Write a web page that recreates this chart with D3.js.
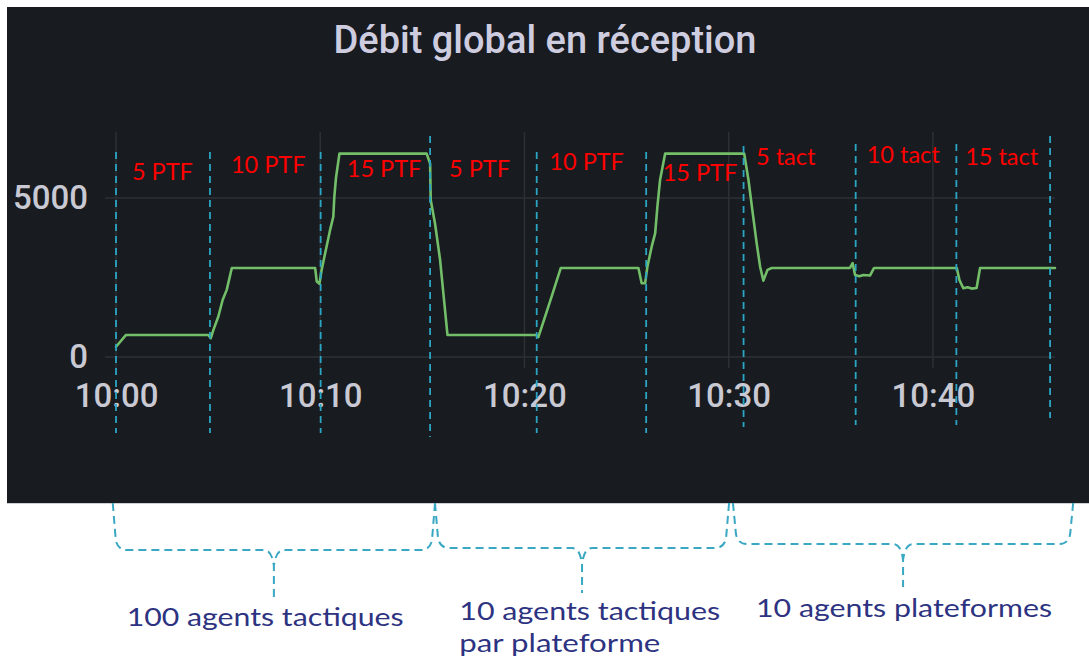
<!DOCTYPE html>
<html>
<head>
<meta charset="utf-8">
<script src="https://cdn.jsdelivr.net/npm/d3@7"></script>
<style>
  html, body { margin: 0; padding: 0; background: #ffffff; }
  svg { display: block; }
</style>
</head>
<body>
<svg id="chart" width="1089" height="657"></svg>
<script>
// Débit global en réception — samples as minutes after 10:00 and received throughput
const minutes = [
  0, 0.49, 4.52, 4.64, 4.77, 5.01, 5.22, 5.42, 5.67,
  9.75, 9.83, 9.96, 10.07, 10.24, 10.48, 10.64, 10.69, 10.77, 10.94,
  15.21, 15.38, 15.41, 15.62, 15.87, 16.03, 16.23,
  20.57, 20.68, 20.85, 21.01, 21.33, 21.78,
  25.58, 25.74, 25.91, 26.02, 26.23, 26.40, 26.51, 26.64, 26.89,
  30.64, 30.76, 30.97, 31.18, 31.37, 31.54, 31.70, 31.90, 32.11,
  35.94, 36.07, 36.19, 36.40, 36.60, 36.92, 37.12,
  41.17, 41.30, 41.49, 41.70, 41.90, 42.14, 42.31, 45.98
];
const debit = [
  320, 690, 690, 590, 850, 1270, 1790, 2110, 2800,
  2800, 2370, 2300, 2740, 3260, 3990, 4410, 5040, 5630, 6400,
  6400, 6090, 4940, 4200, 3050, 2000, 690,
  690, 620, 950, 1270, 1900, 2800,
  2800, 2320, 2320, 2840, 3470, 3890, 4730, 5570, 6400,
  6400, 6400, 5570, 4520, 3580, 2840, 2400, 2740, 2800,
  2800, 2950, 2580, 2540, 2580, 2560, 2800,
  2800, 2420, 2160, 2190, 2150, 2170, 2800, 2800
];

// y-axis ticks and time ticks
const yTicks = [0, 5000];
const timeTickStep = 10;

// phase boundaries (minutes after 10:00) and phase names
const phaseBounds = [0, 4.60, 10.02, 15.38, 20.60, 25.96, 30.73, 36.22, 41.15, 45.74];
const phaseNames = ["5 PTF", "10 PTF", "15 PTF", "5 PTF", "10 PTF", "15 PTF", "5 tact", "10 tact", "15 tact"];
const phaseLabelStart = [0.78, 5.63, 11.30, 16.31, 21.22, 26.77, 31.34, 36.76, 41.58];

// scenario groups under the chart
const groupNames = [["100 agents tactiques"], ["10 agents tactiques", "par plateforme"], ["10 agents plateformes"]];
const groupSpan = [[-0.16, 15.62], [15.62, 30.02], [30.21, 46.87]];
const groupLabelStart = [0.52, 16.81, 31.34];

// ---- layout ----
const panel = { x: 7, y: 7, w: 1082, h: 496 };
const plot = { left: 105, right: 1055, top: 132, bottom: 368 };
const markerTop = [152, 152, 152, 136, 152, 152, 146, 144, 144, 136];
const markerBottom = [433, 433, 433, 437, 433, 433, 427, 425, 425, 418];
const phaseLabelBaseline = [180, 173, 177, 177, 170, 181, 165, 163, 165];
const bracketLayout = [
  { top: 503, bar: 550, stem: 597, label: [626], width: [277] },
  { top: 503, bar: 548, stem: 593, label: [620, 652], width: [261, 201] },
  { top: 503, bar: 544, stem: 587, label: [617], width: [296] }
];

const base = new Date(2024, 0, 1, 10, 0, 0);
const toDate = m => new Date(base.getTime() + m * 60000);
const points = minutes.map((m, i) => ({ t: toDate(m), v: debit[i] }));

const svg = d3.select("#chart");

// panel background
svg.append("rect")
  .attr("x", panel.x).attr("y", panel.y)
  .attr("width", panel.w).attr("height", panel.h)
  .attr("fill", "#181b1f");
svg.append("line")
  .attr("x1", panel.x).attr("x2", panel.x + panel.w)
  .attr("y1", panel.y + panel.h + 0.5).attr("y2", panel.y + panel.h + 0.5)
  .attr("stroke", "#cfd0d3").attr("stroke-width", 1);

// title
svg.append("text")
  .attr("x", 545).attr("y", 53)
  .attr("text-anchor", "middle")
  .attr("font-family", "Roboto, 'Noto Sans', sans-serif")
  .attr("font-weight", 500)
  .attr("font-size", 38)
  .attr("fill", "#cecde0")
  .text("Débit global en réception");

// scales
const x = d3.scaleTime()
  .domain([toDate(-0.54), toDate(45.98)])
  .range([plot.left, plot.right]);
const y = d3.scaleLinear()
  .domain([-350, 7080])
  .range([plot.bottom, plot.top]);

const timeTicks = d3.timeMinute.every(timeTickStep).range(toDate(-0.5), toDate(46));

// grid
const grid = svg.append("g").attr("stroke", "#2d3035").attr("stroke-width", 1.5);
grid.selectAll("line.h").data(yTicks).join("line")
  .attr("class", "h")
  .attr("x1", plot.left).attr("x2", plot.right)
  .attr("y1", d => y(d)).attr("y2", d => y(d));
grid.selectAll("line.v").data(timeTicks).join("line")
  .attr("class", "v")
  .attr("x1", d => x(d)).attr("x2", d => x(d))
  .attr("y1", plot.top).attr("y2", plot.bottom);

// axes
const axisFont = "Roboto, 'Noto Sans', sans-serif";
const yAxis = svg.append("g")
  .attr("transform", `translate(${plot.left},0)`)
  .call(d3.axisLeft(y).tickValues(yTicks).tickFormat(d3.format("d")).tickSize(0).tickPadding(17));
const xAxis = svg.append("g")
  .attr("transform", `translate(0,${plot.bottom})`)
  .call(d3.axisBottom(x).tickValues(timeTicks).tickFormat(d3.timeFormat("%H:%M")).tickSize(0).tickPadding(16));
[yAxis, xAxis].forEach(a => {
  a.select(".domain").remove();
  a.selectAll("text")
    .attr("font-family", axisFont)
    .attr("font-weight", 500)
    .attr("font-size", 33)
    .attr("fill", "#c9c9d3");
});

// throughput line
svg.append("path")
  .datum(points)
  .attr("fill", "none")
  .attr("stroke", "#73bf69")
  .attr("stroke-width", 2.6)
  .attr("stroke-linejoin", "round")
  .attr("stroke-linecap", "round")
  .attr("d", d3.line().x(d => x(d.t)).y(d => y(d.v)));

// phase boundaries
const cyan = "#2ba5c4";
svg.append("g").selectAll("line").data(phaseBounds).join("line")
  .attr("x1", d => x(toDate(d))).attr("x2", d => x(toDate(d)))
  .attr("y1", (d, i) => markerTop[i]).attr("y2", (d, i) => markerBottom[i])
  .attr("stroke", cyan).attr("stroke-width", 1.8)
  .attr("stroke-dasharray", "7,5");

// phase names
const annFont = "Lato, 'Open Sans', sans-serif";
svg.append("g").selectAll("text").data(phaseNames).join("text")
  .attr("x", (d, i) => x(toDate(phaseLabelStart[i])))
  .attr("y", (d, i) => phaseLabelBaseline[i])
  .attr("font-family", annFont)
  .attr("font-size", 23.5)
  .attr("fill", "#ff0000")
  .text(d => d);

// scenario brackets
groupSpan.forEach((span, i) => {
  const L = bracketLayout[i];
  const x0 = x(toDate(span[0])), x1 = x(toDate(span[1]));
  const cx = (x0 + x1) / 2;
  const p = d3.path();
  p.moveTo(x0, L.top);
  p.lineTo(x0 + 3, L.bar - 10);
  p.quadraticCurveTo(x0 + 5, L.bar, x0 + 14, L.bar);
  p.lineTo(cx - 10, L.bar);
  p.quadraticCurveTo(cx - 2, L.bar, cx, L.bar + 16);
  p.lineTo(cx, L.stem);
  p.moveTo(x1, L.top);
  p.lineTo(x1 - 3, L.bar - 10);
  p.quadraticCurveTo(x1 - 5, L.bar, x1 - 14, L.bar);
  p.lineTo(cx + 10, L.bar);
  p.quadraticCurveTo(cx + 2, L.bar, cx, L.bar + 16);
  svg.append("path")
    .attr("d", p.toString())
    .attr("fill", "none")
    .attr("stroke", "#3aa8c2")
    .attr("stroke-width", 2)
    .attr("stroke-dasharray", "8,5");

  const t = svg.append("text")
    .attr("font-family", annFont)
    .attr("font-size", 25)
    .attr("fill", "#2d3381");
  groupNames[i].forEach((line, j) => {
    t.append("tspan")
      .attr("x", x(toDate(groupLabelStart[i])))
      .attr("y", L.label[j])
      .attr("textLength", L.width[j])
      .attr("lengthAdjust", "spacingAndGlyphs")
      .text(line);
  });
});
</script>
</body>
</html>
